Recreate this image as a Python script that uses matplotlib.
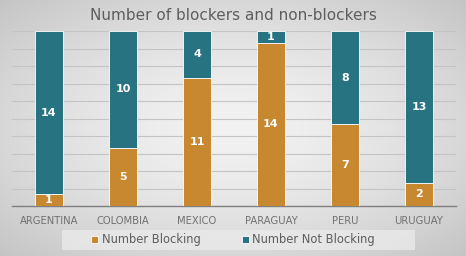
import numpy as np
import matplotlib
matplotlib.use("Agg")
import matplotlib.pyplot as plt
from matplotlib.patches import Rectangle

countries = ["ARGENTINA", "COLOMBIA", "MEXICO", "PARAGUAY", "PERU", "URUGUAY"]
blocking = [1, 5, 11, 14, 7, 2]
not_blocking = [14, 10, 4, 1, 8, 13]

orange = "#C8882F"
teal = "#277381"

fig = plt.figure(figsize=(4.66, 2.56), dpi=100)

# radial gray background, light centre, darker corners
bg = fig.add_axes([0, 0, 1, 1], zorder=0)
yy, xx = np.mgrid[-1:1:256j, -1:1:466j]
r = np.sqrt(xx ** 2 + yy ** 2) / np.sqrt(2)
level = 0.95 - 0.18 * r ** 1.5
img = np.dstack([level, level, level])
bg.imshow(img, aspect="auto", extent=[0, 1, 0, 1])
bg.set_axis_off()

ax = fig.add_axes([12 / 466, 50 / 256, 444 / 466, 175 / 256], zorder=1)
ax.patch.set_alpha(0)

x = np.arange(len(countries))
b1 = ax.bar(x, blocking, width=0.39, color=orange, edgecolor="white", linewidth=0.6, zorder=3)
b2 = ax.bar(x, not_blocking, width=0.39, bottom=blocking, color=teal, edgecolor="white", linewidth=0.6, zorder=3)

for i in range(len(countries)):
    ax.text(x[i], blocking[i] / 2, str(blocking[i]), ha="center", va="center",
            color="white", fontsize=8, fontweight="bold", zorder=4)
    ax.text(x[i], blocking[i] + not_blocking[i] / 2, str(not_blocking[i]), ha="center", va="center",
            color="white", fontsize=8, fontweight="bold", zorder=4)

ax.set_xlim(-0.5, len(countries) - 0.5)
ax.set_ylim(0, 15)
ax.set_yticks(np.arange(0, 15.01, 1.5))
ax.yaxis.grid(True, color="#C4C4C4", linewidth=0.8, zorder=0)
ax.set_yticklabels([])
ax.tick_params(axis="y", length=0)
ax.tick_params(axis="x", length=0, pad=7, labelsize=7.2, labelcolor="#707070")
ax.set_xticks(x)
ax.set_xticklabels(countries)
for s in ["top", "right", "left"]:
    ax.spines[s].set_visible(False)
ax.spines["bottom"].set_color("#7F7F7F")
ax.spines["bottom"].set_linewidth(1)

fig.text(0.5, 1 - 15 / 256, "Number of blockers and non-blockers", ha="center", va="center",
         fontsize=11, color="#5E5E5E")

# legend box
fig.patches.append(Rectangle((62 / 466, 6 / 256), 353 / 466, 20 / 256, transform=fig.transFigure,
                             facecolor="#EAEAEA", edgecolor="none", alpha=0.8, zorder=1))
leg = fig.legend([b1, b2], ["Number Blocking", "Number Not Blocking"], loc="center",
                 bbox_to_anchor=(0.5, 16 / 256), ncol=2, frameon=False, fontsize=8.3,
                 handlelength=0.6, handleheight=0.6, handletextpad=0.3, columnspacing=3.6,
                 labelcolor="#5E5E5E")

fig.savefig("out.png", dpi=100)
